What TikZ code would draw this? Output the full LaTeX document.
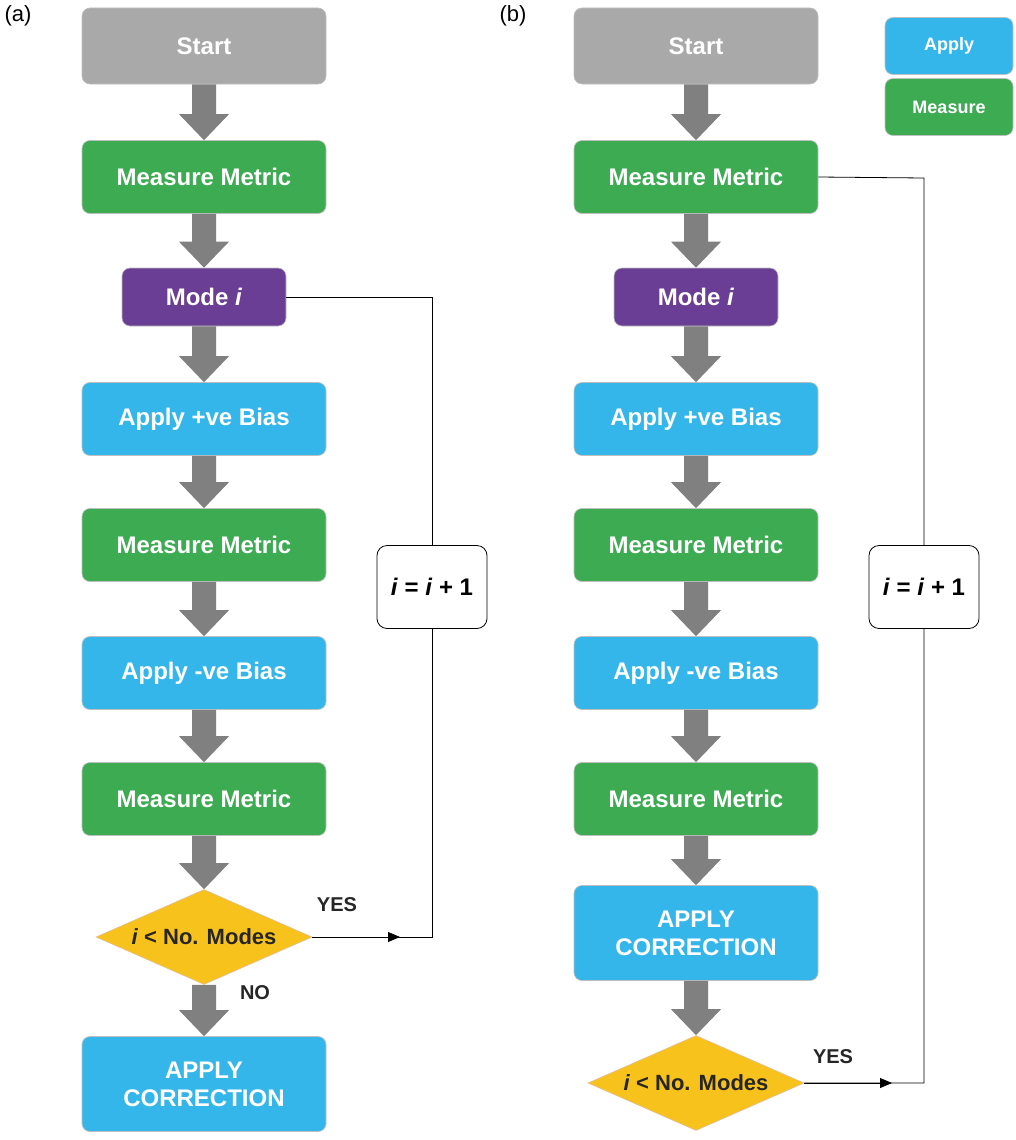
\documentclass[tikz,border=0pt]{standalone}
\usepackage{fontspec}
\setmainfont{Liberation Sans}
\usetikzlibrary{shapes.geometric,calc,arrows.meta}
\definecolor{cgray}{HTML}{A9A9A9}
\definecolor{cgreen}{HTML}{3CAB52}
\definecolor{cpurple}{HTML}{6B3E95}
\definecolor{cblue}{HTML}{35B6EA}
\definecolor{cyellow}{HTML}{F8C21C}
\definecolor{arrgray}{HTML}{808080}
\tikzset{
 box/.style={rounded corners=8pt,draw=black!25,line width=0.6pt,text=white,font=\fontsize{24}{28}\selectfont\bfseries,align=center,inner sep=0pt,minimum width=244pt,minimum height=73pt},
 smallbox/.style={box,minimum width=164pt,minimum height=58pt},
 lbox/.style={box,minimum width=128pt,minimum height=57pt,font=\fontsize{18}{22}\selectfont\bfseries},
 dia/.style={diamond,fill=cyellow,draw=orange!70!black!40,line width=0.6pt,inner sep=0pt,minimum width=216pt,minimum height=95pt},
 diatext/.style={font=\fontsize{22}{26}\selectfont\bfseries,text=black!85},
 ibox/.style={draw=black,fill=white,rounded corners=10pt,line width=0.8pt,minimum width=110pt,minimum height=83pt,font=\fontsize{24}{28}\selectfont\bfseries},
 lbl/.style={font=\fontsize{20}{24}\selectfont\bfseries,text=black!85},
 loop/.style={draw=black,line width=0.8pt},
}
\newcommand\blockarr[2]{%
 \fill[arrgray] ($(#1.south)+(-12,0)$) -- ($(#2.north)+(-12,-26)$) -- ($(#2.north)+(-25,-26)$) -- (#2.north) -- ($(#2.north)+(25,-26)$) -- ($(#2.north)+(12,-26)$) -- ($(#1.south)+(12,0)$) -- cycle;}
\begin{document}
\begin{tikzpicture}[x=1pt,y=-1pt]
\useasboundingbox (0,0) rectangle (1015,1140);
\node[font=\fontsize{22}{26}\selectfont] (la) at (18,16) {(a)};
\node[font=\fontsize{22}{26}\selectfont] (lb) at (513,16) {(b)};
% column a
\node[box,fill=cgray,minimum height=76pt] (a0) at (204,46) {Start};
\node[box,fill=cgreen] (a1) at (204,177) {Measure Metric};
\node[smallbox,fill=cpurple] (a2) at (204,297) {Mode \textit{i}};
\node[box,fill=cblue] (a3) at (204,419) {Apply +ve Bias};
\node[box,fill=cgreen] (a4) at (204,545) {Measure Metric};
\node[box,fill=cblue] (a5) at (204,673) {Apply -ve Bias};
\node[box,fill=cgreen] (a6) at (204,799) {Measure Metric};
\node[dia] (a7) at (204,937) {};
\node[diatext] (a7t) at (204,937) {\textit{i} < No. Modes};
\node[box,fill=cblue,minimum height=95pt] (a8) at (204,1084) {APPLY\\CORRECTION};
\blockarr{a0}{a1}\blockarr{a1}{a2}\blockarr{a2}{a3}\blockarr{a3}{a4}
\blockarr{a4}{a5}\blockarr{a5}{a6}\blockarr{a6}{a7}\blockarr{a7}{a8}
\coordinate (ac1) at (432,297);
\coordinate (ac2) at (432,937);
\coordinate (am) at (400,937);
\draw[loop] (a2.east) -- (ac1) -- (ac2) -- (a7.east);
\draw[loop,-{Triangle[length=12pt,width=10pt]}] (a7.east) -- (am);
\node[ibox] (ai) at (432,587) {\textit{i} = \textit{i} + 1};
\node[lbl] (ayes) at (337,905) {YES};
\node[lbl] (ano) at (255,993) {NO};
% column b
\node[box,fill=cgray,minimum height=76pt] (b0) at (696,46) {Start};
\node[box,fill=cgreen] (b1) at (696,177) {Measure Metric};
\node[smallbox,fill=cpurple] (b2) at (696,297) {Mode \textit{i}};
\node[box,fill=cblue] (b3) at (696,419) {Apply +ve Bias};
\node[box,fill=cgreen] (b4) at (696,545) {Measure Metric};
\node[box,fill=cblue] (b5) at (696,673) {Apply -ve Bias};
\node[box,fill=cgreen] (b6) at (696,799) {Measure Metric};
\node[box,fill=cblue,minimum height=95pt] (b7) at (696,933) {APPLY\\CORRECTION};
\node[dia] (b8) at (696,1083) {};
\node[diatext] (b8t) at (696,1083) {\textit{i} < No. Modes};
\blockarr{b0}{b1}\blockarr{b1}{b2}\blockarr{b2}{b3}\blockarr{b3}{b4}
\blockarr{b4}{b5}\blockarr{b5}{b6}\blockarr{b6}{b7}\blockarr{b7}{b8}
\coordinate (bc1) at (924,178);
\coordinate (bc2) at (924,1083);
\coordinate (bm) at (892,1083);
\draw[loop] (b1.east) -- (bc1) -- (bc2) -- (b8.east);
\draw[loop,-{Triangle[length=12pt,width=10pt]}] (b8.east) -- (bm);
\node[ibox] (bi) at (924,587) {\textit{i} = \textit{i} + 1};
\node[lbl] (byes) at (833,1057) {YES};
% legend
\node[lbl,lbox,fill=cblue,text=white] (lg1) at (949,46) {Apply};
\node[lbl,lbox,fill=cgreen,text=white] (lg2) at (949,107) {Measure};
\end{tikzpicture}
\end{document}
